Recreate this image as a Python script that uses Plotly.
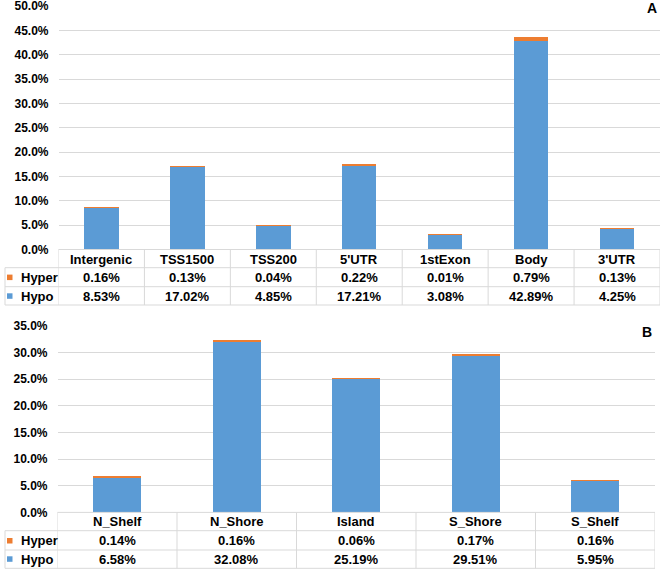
import plotly.graph_objects as go

# ---------------- data ----------------
cats_a = ["Intergenic", "TSS1500", "TSS200", "5'UTR", "1stExon", "Body", "3'UTR"]
hyper_a = [0.16, 0.13, 0.04, 0.22, 0.01, 0.79, 0.13]
hypo_a = [8.53, 17.02, 4.85, 17.21, 3.08, 42.89, 4.25]

cats_b = ["N_Shelf", "N_Shore", "Island", "S_Shore", "S_Shelf"]
hyper_b = [0.14, 0.16, 0.06, 0.17, 0.16]
hypo_b = [6.58, 32.08, 25.19, 29.51, 5.95]

series_names = ["Hyper", "Hypo"]
panel_labels = ["A", "B"]

# ---------------- styling ----------------
W, H = 669, 569
BLUE = "#5B9BD5"
ORANGE = "#ED7D31"
GRID = "#D9D9D9"
FONT = "Liberation Sans, Arial, sans-serif"


def xp(px):
    return px / W


def yp(py):
    return 1 - py / H


fig = go.Figure()

fig.add_trace(go.Bar(x=cats_a, y=[v / 100 for v in hypo_a], name="Hypo",
                     marker=dict(color=BLUE, line=dict(width=0)),
                     xaxis="x", yaxis="y", showlegend=False))
fig.add_trace(go.Bar(x=cats_a, y=[v / 100 for v in hyper_a], name="Hyper",
                     marker=dict(color=ORANGE, line=dict(width=0)),
                     xaxis="x", yaxis="y", showlegend=False))
fig.add_trace(go.Bar(x=cats_b, y=[v / 100 for v in hypo_b], name="Hypo",
                     marker=dict(color=BLUE, line=dict(width=0)),
                     xaxis="x2", yaxis="y2", showlegend=False))
fig.add_trace(go.Bar(x=cats_b, y=[v / 100 for v in hyper_b], name="Hyper",
                     marker=dict(color=ORANGE, line=dict(width=0)),
                     xaxis="x2", yaxis="y2", showlegend=False))

# panel geometry (pixels)
panels = [
    dict(cats=cats_a, hyper=hyper_a, hypo=hypo_a, xl=58.5, xr=660,
         rows=[249.5, 267.7, 286.7, 305], txt=[259.3, 277.3, 296.0],
         xa="x", label_y=8),
    dict(cats=cats_b, hyper=hyper_b, hypo=hypo_b, xl=57.5, xr=655,
         rows=[512.4, 530.7, 550.0, 568.3], txt=[521.6, 540.7, 559.0],
         xa="x2", label_y=332),
]

axis_common = dict(showline=False, zeroline=False, automargin=False)
tickfont = dict(family=FONT, size=12, color="#000", weight="bold")
fig.update_layout(
    template="none",
    xaxis=dict(domain=[xp(58.5), xp(660)], range=[-0.5, 6.5], showticklabels=False,
               showgrid=False, anchor="y", ticks="", **axis_common),
    yaxis=dict(domain=[yp(249.5), yp(6)], range=[0, 0.5001], dtick=0.05, tickformat=".1%",
               showgrid=True, gridcolor=GRID, gridwidth=1, anchor="x", ticks="",
               ticklabeloverflow="allow",
               ticklabelstandoff=9, tickfont=tickfont, **axis_common),
    xaxis2=dict(domain=[xp(57.5), xp(655)], range=[-0.5, 4.5], showticklabels=False,
                showgrid=False, anchor="y2", ticks="", **axis_common),
    yaxis2=dict(domain=[yp(512.4), yp(325.7)], range=[0, 0.35001], dtick=0.05, tickformat=".1%",
                showgrid=True, gridcolor=GRID, gridwidth=1, anchor="x2", ticks="",
                ticklabeloverflow="allow",
                ticklabelstandoff=9, tickfont=tickfont, **axis_common),
    barmode="stack",
    bargap=0.6,
    width=W, height=H,
    margin=dict(l=0, r=0, t=0, b=0, pad=0, autoexpand=False),
    paper_bgcolor="white", plot_bgcolor="white",
)

shapes = []
annotations = []
tfont = dict(family=FONT, size=13, color="#000", weight="bold")
line = dict(color=GRID, width=1)

for p in panels:
    rows = p["rows"]
    n = len(p["cats"])
    shapes.append(dict(type="line", xref="paper", yref="paper", x0=xp(p["xl"]), x1=xp(p["xr"]),
                       y0=yp(rows[0]), y1=yp(rows[0]), line=line))
    for r in rows[1:]:
        shapes.append(dict(type="line", xref="paper", yref="paper", x0=xp(5), x1=xp(p["xr"]),
                           y0=yp(r), y1=yp(r), line=line))
    shapes.append(dict(type="line", xref="paper", yref="paper", x0=xp(5), x1=xp(5),
                       y0=yp(rows[1]), y1=yp(rows[3]), line=line))
    for i in range(n + 1):
        shapes.append(dict(type="line", xref=p["xa"], yref="paper", x0=i - 0.5, x1=i - 0.5,
                           y0=yp(rows[0]), y1=yp(rows[3]), line=line))
    for i, c in enumerate(p["cats"]):
        annotations.append(dict(x=c, y=yp(p["txt"][0]), xref=p["xa"], yref="paper",
                                text=c, showarrow=False, font=tfont, xanchor="center", yanchor="middle"))
        annotations.append(dict(x=c, y=yp(p["txt"][1]), xref=p["xa"], yref="paper",
                                text=f"{p['hyper'][i]:.2f}%", showarrow=False, font=tfont,
                                xanchor="center", yanchor="middle"))
        annotations.append(dict(x=c, y=yp(p["txt"][2]), xref=p["xa"], yref="paper",
                                text=f"{p['hypo'][i]:.2f}%", showarrow=False, font=tfont,
                                xanchor="center", yanchor="middle"))
    for k, (nm, col) in enumerate(zip(series_names, [ORANGE, BLUE])):
        yc = p["txt"][1 + k]
        shapes.append(dict(type="rect", xref="paper", yref="paper", x0=xp(7), x1=xp(12.5),
                           y0=yp(yc + 2.8), y1=yp(yc - 2.7), fillcolor=col, line=dict(width=0)))
        annotations.append(dict(x=xp(19), y=yp(yc), xref="paper", yref="paper", text=nm,
                                showarrow=False, font=tfont, xanchor="left", yanchor="middle"))

for p, lab in zip(panels, panel_labels):
    annotations.append(dict(x=xp(p["xr"] - 1), y=yp(p["label_y"]), xref="paper", yref="paper",
                            text=lab, showarrow=False,
                            font=dict(family=FONT, size=14, color="#000", weight="bold"),
                            xanchor="right", yanchor="middle"))

fig.update_layout(shapes=shapes, annotations=annotations)
fig.write_html("out.html", config={"displayModeBar": False},
               post_script="document.body.style.margin='0';document.body.style.overflow='hidden';")
